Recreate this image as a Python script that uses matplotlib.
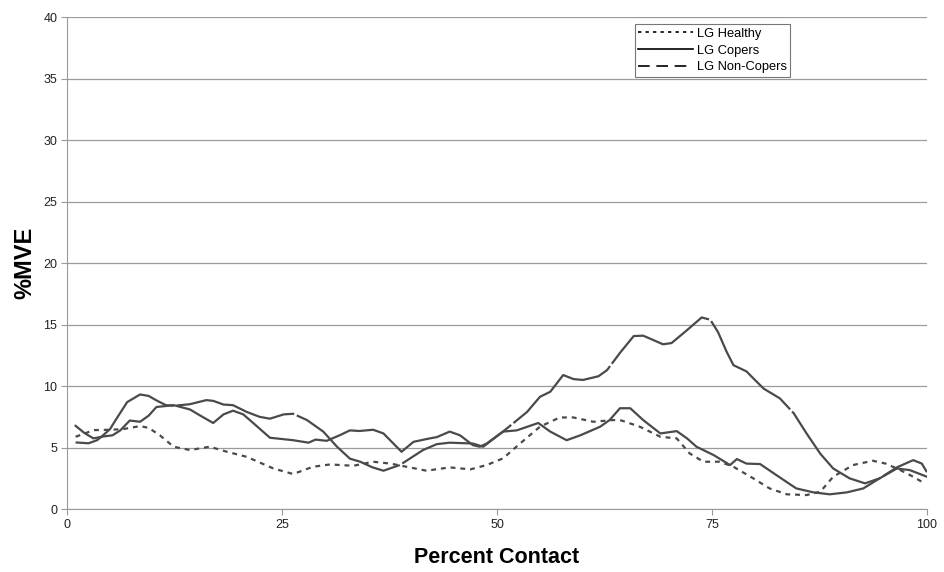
import matplotlib
matplotlib.use("Agg")
import matplotlib.pyplot as plt
from matplotlib.lines import Line2D

plt.rcParams["font.family"] = ["Liberation Sans", "DejaVu Sans"]

LINE_COLOR = "#4a4a4a"
GRID_COLOR = "#9a9a9a"

# LG Healthy (dotted)
healthy_x = [1, 3.1, 5, 6.5, 8.5, 9.5, 10.8, 12.4, 14.3, 16.6, 18.6, 20.9, 24, 26.3,
             28.6, 30.6, 33.3, 35.6, 37.6, 41.8, 44.5, 46.9, 48.8, 50.7, 52.7, 55,
             57.3, 58.9, 61.2, 63.5, 64.5, 66.6, 69, 70.9, 72.4, 74, 75.9, 77.5,
             79.8, 81.7, 83.7, 86, 87.6, 89.1, 91.4, 93.7, 95.2, 96.9, 98.4, 99.4]
healthy_y = [5.88, 6.42, 6.45, 6.5, 6.75, 6.6, 6.0, 5.07, 4.8, 5.07, 4.66, 4.25, 3.3, 2.85,
             3.44, 3.63, 3.52, 3.85, 3.7, 3.12, 3.39, 3.23, 3.58, 4.12, 5.34, 6.7,
             7.45, 7.45, 7.1, 7.24, 7.2, 6.7, 5.88, 5.75, 4.53, 3.85, 3.85, 3.44,
             2.5, 1.68, 1.2, 1.14, 1.41, 2.63, 3.58, 3.93, 3.7, 3.17, 2.63, 2.22]

# LG Copers (solid)
copers_x = [1, 2, 3.06, 4.2, 5.3, 6.2, 7.3, 8.5, 9.5, 10.4, 12.4, 14.3, 15.5, 17, 18.2,
            19.3, 20.5, 21.7, 23.6, 26.3, 28.1, 28.9, 30.2, 31.7, 32.9, 34, 35.6, 36.8,
            38.9, 40.3, 42.2, 43, 44.5, 45.7, 47.2, 48, 48.8, 50.7, 52.3, 54.8, 56.2,
            58.1, 59.7, 62, 63.1, 64.3, 65.5, 67, 69, 70.9, 72.1, 73.2, 75.2, 77.1,
            77.9, 79, 80.6, 82.5, 84.8, 86.8, 88.7, 90.7, 92.6, 94.5, 96.5, 98, 100]
copers_y = [6.77, 6.2, 5.75, 5.9, 6.0, 6.4, 7.2, 7.1, 7.6, 8.3, 8.45, 8.1, 7.6, 7.0, 7.7,
            8.0, 7.7, 6.97, 5.8, 5.6, 5.4, 5.65, 5.55, 6.0, 6.4, 6.35, 6.45, 6.15,
            4.66, 5.47, 5.75, 5.85, 6.3, 6.0, 5.2, 5.07, 5.33, 6.3, 6.4, 7.0, 6.3,
            5.6, 6.0, 6.7, 7.24, 8.2, 8.2, 7.24, 6.15, 6.34, 5.75, 5.07, 4.39, 3.58,
            4.07, 3.7, 3.66, 2.76, 1.68, 1.36, 1.2, 1.36, 1.68, 2.5, 3.3, 3.17, 2.63]

# LG Non-Copers (long dash)
noncopers_x = [1, 2.5, 3.5, 4.2, 5, 5.8, 7, 8.5, 9.5, 10.5, 11.5, 12.5, 14.3, 16.2, 17,
               18.2, 19.3, 20.9, 22.4, 23.6, 25.2, 26.3, 27.9, 29.8, 31.4, 32.9, 34.1,
               35.5, 36.8, 38.7, 41.4, 43, 44.5, 47.2, 48.4, 50.7, 53.5, 55, 56.2, 57.7,
               58.9, 60, 61.8, 62.8, 64.3, 65.9, 67, 68, 69.3, 70.3, 72.1, 73.8, 74.8,
               75.7, 76.7, 77.5, 79, 81, 82.9, 84.5, 86, 87.6, 89.1, 91, 92.8, 94.5,
               96.5, 98.4, 99.4, 100]
noncopers_y = [5.42, 5.35, 5.6, 6.0, 6.5, 7.4, 8.7, 9.32, 9.2, 8.8, 8.45, 8.4, 8.53, 8.86, 8.8,
               8.5, 8.45, 7.9, 7.5, 7.35, 7.7, 7.75, 7.24, 6.3, 5.07, 4.1, 3.85,
               3.4, 3.12, 3.58, 4.8, 5.28, 5.4, 5.33, 5.07, 6.3, 7.9, 9.13, 9.54, 10.9,
               10.57, 10.5, 10.8, 11.3, 12.7, 14.07, 14.1, 13.8, 13.4, 13.5, 14.55, 15.58, 15.4,
               14.4, 12.8, 11.7, 11.2, 9.8, 9.0, 7.8, 6.15, 4.5, 3.3, 2.5, 2.09, 2.5,
               3.39, 3.98, 3.7, 3.0]

x_ticks = [0, 25, 50, 75, 100]
y_ticks = [0, 5, 10, 15, 20, 25, 30, 35, 40]

fig = plt.figure(figsize=(9.45, 5.72), dpi=100)
ax = fig.add_axes([0.0709, 0.110, 0.910, 0.860])

ax.plot(healthy_x, healthy_y, color=LINE_COLOR, lw=1.6, dashes=(2.2, 2.2))
ax.plot(copers_x, copers_y, color=LINE_COLOR, lw=1.6)
ax.plot(noncopers_x, noncopers_y, color=LINE_COLOR, lw=1.6, dashes=(55, 1.3))

ax.set_xlim(0, 100)
ax.set_ylim(0, 40)
ax.set_xticks(x_ticks)
ax.set_yticks(y_ticks)
ax.yaxis.grid(True, color=GRID_COLOR, lw=0.9)
ax.set_axisbelow(True)
for side in ["top", "right"]:
    ax.spines[side].set_visible(False)
for side in ["left", "bottom"]:
    ax.spines[side].set_color(GRID_COLOR)
ax.tick_params(colors=GRID_COLOR, labelcolor="#222222", labelsize=9, length=4, pad=3)

ax.set_xlabel("Percent Contact", fontsize=15.5, fontweight="bold", labelpad=12)
ax.set_ylabel("%MVE", fontsize=17, fontweight="bold", labelpad=5)

handles = [
    Line2D([], [], color="black", lw=1.2, dashes=(2, 2.5)),
    Line2D([], [], color="black", lw=1.2),
    Line2D([], [], color="black", lw=1.2, dashes=(7, 4)),
]
leg = ax.legend(handles, ["LG Healthy", "LG Copers", "LG Non-Copers"],
                loc="upper left", bbox_to_anchor=(0.660, 0.986), fontsize=9.3,
                frameon=True, fancybox=False, edgecolor="#555555",
                handlelength=4.2, handletextpad=0.3, labelspacing=0.35,
                borderpad=0.3, borderaxespad=0)
leg.get_frame().set_linewidth(0.8)

fig.savefig("out.png", dpi=100)
